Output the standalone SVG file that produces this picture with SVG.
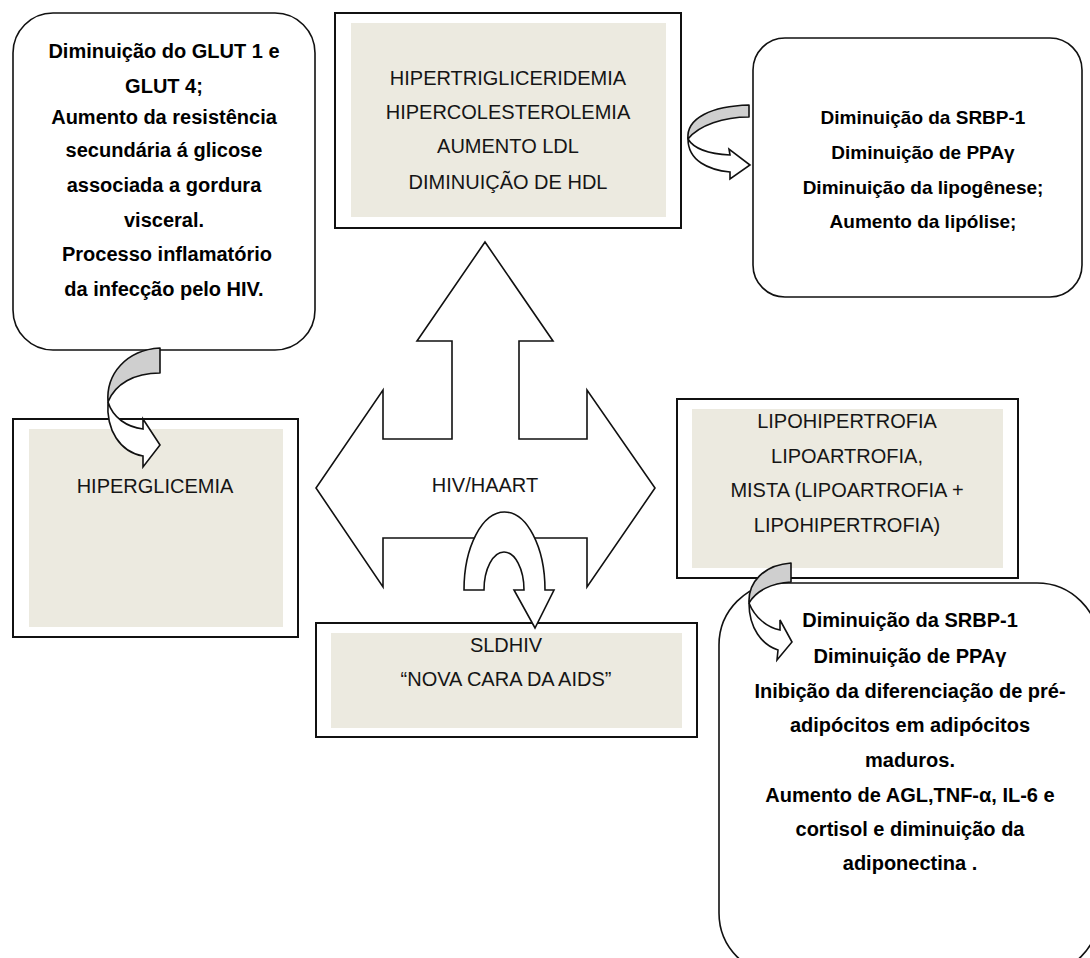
<svg xmlns="http://www.w3.org/2000/svg" width="1090" height="958" viewBox="0 0 1090 958">
<style>
.bg{fill:#ffffff}
.frame{fill:#ffffff;stroke:#111;stroke-width:2}
.inner{fill:#ECEAE0;stroke:none}
.round{fill:#ffffff;stroke:#111;stroke-width:1.6}
.hub{fill:#ffffff;stroke:#111;stroke-width:1.6;stroke-linejoin:miter}
.t{font-family:"Liberation Sans",Arial,sans-serif;font-size:20px;fill:#151515;text-anchor:middle}
.b{font-weight:bold;fill:#000}
.s19{font-size:19px}
.back{fill:#CFCFCF;stroke:#111;stroke-width:1.6;stroke-linejoin:round}
.front{fill:#ffffff;stroke:#111;stroke-width:1.6;stroke-linejoin:miter}
</style>
<rect class="bg" x="0" y="0" width="1090" height="958"/>

<g id="node-glut">
<rect class="round" x="13" y="13" width="302" height="337" rx="40" ry="40"/>
<text class="t b" x="164" y="58">Diminuição do GLUT 1 e</text>
<text class="t b" x="164" y="93">GLUT 4;</text>
<text class="t b" x="164" y="124">Aumento da resistência</text>
<text class="t b" x="164" y="157">secundária á glicose</text>
<text class="t b" x="164" y="192">associada a gordura</text>
<text class="t b" x="164" y="227">visceral.</text>
<text class="t b" x="167" y="261">Processo inflamatório</text>
<text class="t b" x="164" y="296">da infecção pelo HIV.</text>
</g>

<g id="node-dislipidemia">
<rect class="frame" x="335" y="13" width="346" height="215"/>
<rect class="inner" x="351" y="23" width="315" height="194"/>
<text class="t" x="508" y="85">HIPERTRIGLICERIDEMIA</text>
<text class="t" x="508" y="119">HIPERCOLESTEROLEMIA</text>
<text class="t" x="508" y="153">AUMENTO LDL</text>
<text class="t" x="508" y="189">DIMINUIÇÃO DE HDL</text>
</g>

<g id="node-srbp-top">
<rect class="round" x="753" y="38" width="329" height="259" rx="32" ry="32"/>
<text class="t b s19" x="923" y="124">Diminuição da SRBP-1</text>
<text class="t b s19" x="923" y="159">Diminuição de PPAγ</text>
<text class="t b s19" x="923" y="194">Diminuição da lipogênese;</text>
<text class="t b s19" x="923" y="228">Aumento da lipólise;</text>
</g>

<g id="node-hiperglicemia">
<rect class="frame" x="13" y="419" width="285" height="218"/>
<rect class="inner" x="29" y="429" width="254" height="198"/>
<text class="t" x="155" y="493">HIPERGLICEMIA</text>
</g>

<g id="node-lipodistrofia">
<rect class="frame" x="677" y="399" width="341" height="179"/>
<rect class="inner" x="692" y="409" width="311" height="159"/>
<text class="t" x="847" y="428">LIPOHIPERTROFIA</text>
<text class="t" x="847" y="463">LIPOARTROFIA,</text>
<text class="t" x="847" y="497">MISTA (LIPOARTROFIA +</text>
<text class="t" x="847" y="532">LIPOHIPERTROFIA)</text>
</g>

<g id="node-srbp-bottom">
<rect class="round" x="719" y="583" width="380" height="392" rx="62" ry="62"/>
<text class="t b" x="910" y="627">Diminuição da SRBP-1</text>
<text class="t b" x="910" y="663">Diminuição de PPAγ</text>
<text class="t b" x="910" y="698">Inibição da diferenciação de pré-</text>
<text class="t b" x="910" y="732">adipócitos em adipócitos</text>
<text class="t b" x="910" y="767">maduros.</text>
<text class="t b" x="910" y="802">Aumento de AGL,TNF-α, IL-6 e</text>
<text class="t b" x="910" y="836">cortisol e diminuição da</text>
<text class="t b" x="910" y="870">adiponectina .</text>
</g>

<g id="node-hub">
<polygon class="hub" points="485,242 553,341 519,341 519,439 587,439 587,390 655,488 587,587 587,538 383,538 383,587 316,488 383,390 383,439 452,439 452,341 417,341"/>
<text class="t" x="485" y="492">HIV/HAART</text>
</g>

<g id="node-sldhiv">
<rect class="frame" x="316" y="623" width="381" height="114"/>
<rect class="inner" x="331" y="633" width="351" height="95"/>
<text class="t" x="506" y="652">SLDHIV</text>
<text class="t" x="506" y="686">“NOVA CARA DA AIDS”</text>
</g>

<g id="connectors">
<g id="arrow-glut-hiperglicemia">
<path class="back" d="M160,348 L160,373 C134,373 115,384 108,402 C106,374 126,350 160,348 Z"/>
<path class="front" d="M108,402 C106,430 120,452 143,456 L143,467 L160,445 L143,419 L143,429 C127,427 113,418 108,402 Z"/>
</g>
<g id="arrow-dislip-srbp">
<path class="back" d="M749,105 L749,117 C724,117 699,125 688,139 C686,118 712,106 749,105 Z"/>
<path class="front" d="M688,139 C688,161 709,170 730,172 L730,179 L750,165 L729,149 L730,155 C710,154 694,149 688,139 Z"/>
</g>
<g id="arrow-lipo-srbp">
<path class="back" d="M791,563 L791,582 C771,583 756,591 749,603 C748,582 764,565 791,563 Z"/>
<path class="front" d="M749,603 C749,628 762,645 778,650 L777,660 L792,642 L780,620 L780,630 C767,627 755,618 749,603 Z"/>
</g>
<g id="arrow-hub-sldhiv">
<path class="front" d="M464,590 A40.5,78 0 0 1 545,590 L554,590 L535,628 L514,590 L524,590 A20,38 0 0 0 484,590 Z"/>
</g>
</g>
</svg>
